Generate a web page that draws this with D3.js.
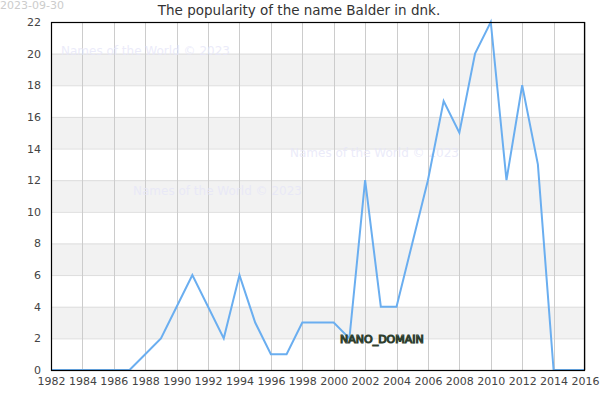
<!DOCTYPE html>
<html><head><meta charset="utf-8">
<script src="https://cdn.jsdelivr.net/npm/d3@7"></script>
<style>body{margin:0;background:#fff;} svg{display:block;font-family:"DejaVu Sans",sans-serif;}</style>
</head><body>
<svg id="c" width="600" height="400"></svg>
<script>
const years = [1982,1983,1984,1985,1986,1987,1988,1989,1990,1991,1992,1993,1994,1995,1996,1997,1998,1999,2000,2001,2002,2003,2004,2005,2006,2007,2008,2009,2010,2011,2012,2013,2014,2015,2016];
const counts = [0,0,0,0,0,0,1,2,4,6,4,2,6,3,1,1,3,3,3,2,12,4,4,8,12,17,15,20,22,12,18,13,0,0,0];
const xTicks = [1982,1984,1986,1988,1990,1992,1994,1996,1998,2000,2002,2004,2006,2008,2010,2012,2014,2016];
const yTicks = [0,2,4,6,8,10,12,14,16,18,20,22];
const title = "The popularity of the name Balder in dnk.";
const dateLabel = "2023-09-30";
const watermark = "Names of the World © 2023";

const svg = d3.select("#c");
const L=51,R=585,T=22,B=370;
const x = d3.scaleLinear().domain([1982,2016]).range([L,R]);
const y = d3.scaleLinear().domain([0,22]).range([B,T]);

// bands
const bands = yTicks.filter(v=>v%4===2 && v<22);
svg.selectAll("rect.band").data(bands).enter().append("rect")
  .attr("x",L).attr("width",R-L)
  .attr("y",d=>y(d+2)).attr("height",d=>y(d)-y(d+2))
  .attr("fill","#f2f2f2");
// horizontal grid
svg.selectAll("line.hg").data(yTicks).enter().append("line")
  .attr("x1",L).attr("x2",R).attr("y1",d=>y(d)+0.5).attr("y2",d=>y(d)+0.5)
  .attr("stroke","#dddddd").attr("stroke-width",1);
// vertical grid
svg.selectAll("line.vg").data(xTicks).enter().append("line")
  .attr("y1",T).attr("y2",B).attr("x1",d=>Math.round(x(d))+0.5).attr("x2",d=>Math.round(x(d))+0.5)
  .attr("stroke","#cccccc").attr("stroke-width",1);

// watermarks
const wm = [[61,55],[133,195],[290,157]];
svg.selectAll("text.wm").data(wm).enter().append("text")
  .attr("x",d=>d[0]).attr("y",d=>d[1]).text(watermark)
  .attr("font-size",12).attr("fill","#e6e6f8").attr("fill-opacity",0.8);

// line
const line = d3.line().x((d,i)=>x(years[i])).y(d=>y(d));
svg.append("path").datum(counts).attr("d",line)
  .attr("fill","none").attr("stroke","#6aaef0").attr("stroke-width",2).attr("stroke-linejoin","miter");

// frame
svg.append("rect").attr("x",L+0.5).attr("y",T+0.5).attr("width",R-L-1).attr("height",B-T)
  .attr("fill","none").attr("stroke","#000").attr("stroke-width",1.2);

// axes
const xa = svg.append("g").attr("transform",`translate(0,${B})`)
  .call(d3.axisBottom(x).tickValues(xTicks).tickFormat(d3.format("d")).tickSize(0).tickPadding(7));
xa.select(".domain").remove();
xa.selectAll("text").attr("font-size",11).attr("fill","#444").attr("font-family","DejaVu Sans");
const ya = svg.append("g").attr("transform",`translate(${L},0)`)
  .call(d3.axisLeft(y).tickValues(yTicks).tickSize(0).tickPadding(10));
ya.select(".domain").remove();
ya.selectAll("text").attr("font-size",11).attr("fill","#444").attr("font-family","DejaVu Sans");

// title
svg.append("text").attr("x",299).attr("y",15).attr("text-anchor","middle")
  .attr("font-size",13.5).attr("fill","#333").text(title);
svg.append("text").attr("x",0).attr("y",9).attr("font-size",11).attr("fill","#cccccc").text(dateLabel);

// NANO_DOMAIN label
svg.append("text").attr("x",340).attr("y",343).attr("font-size",11)
  .attr("fill","#dde5dd").attr("stroke","#2f3f2f").attr("stroke-width",1.2)
  .attr("paint-order","normal").text("NANO_DOMAIN");
</script>
</body></html>
